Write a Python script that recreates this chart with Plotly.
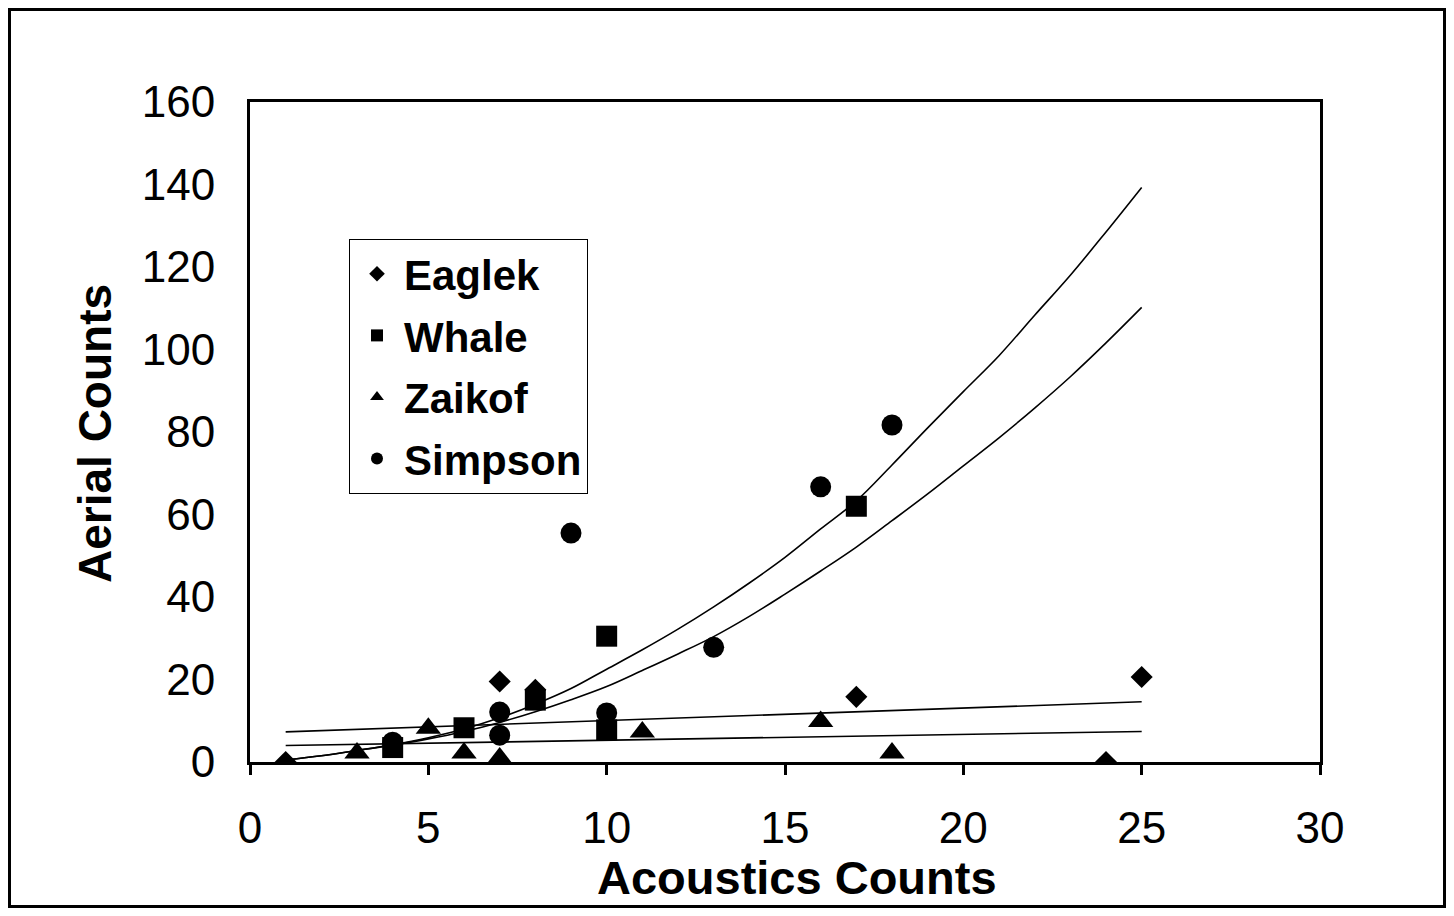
import plotly.graph_objects as go

# ---- data ----
eaglek_x = [1, 7, 8, 17, 24, 25]
eaglek_y = [0, 19.5, 17.5, 15.8, 0, 20.6]

whale_x = [4, 6, 8, 10, 10, 17]
whale_y = [3.5, 8.3, 15, 30.5, 7.8, 62]

zaikof_x = [3, 5, 6, 7, 11, 16, 18]
zaikof_y = [2.2, 8.2, 2.2, 1.0, 7.3, 9.8, 2.2]

simpson_x = [4, 7, 7, 9, 10, 13, 16, 18]
simpson_y = [4.8, 12.1, 6.5, 55.5, 11.9, 27.8, 66.7, 81.7]

# trend curves
curve_x = list(range(1, 26))
curve_upper_y = [0.5, 1.5, 2.8, 4.2, 5.9, 8.0, 10.7, 14.0, 17.8, 22.5, 27.2, 32.2,
                 37.6, 43.4, 49.6, 56.5, 63.3, 72.0, 81.0, 89.8, 98.5, 108.3,
                 118.0, 128.5, 139.3]
curve_lower_y = [0.5, 1.5, 2.8, 4.1, 5.6, 7.4, 9.6, 12.2, 15.1, 18.3, 22.2, 26.2,
                 30.4, 35.3, 40.7, 46.3, 52.1, 58.5, 65.0, 71.8, 78.6, 85.8,
                 93.4, 101.6, 110.2]
flat_x = [1, 25]
flat_upper_y = [7.3, 14.6]
flat_lower_y = [4.0, 7.4]

x_ticks = [0, 5, 10, 15, 20, 25, 30]
y_ticks = [0, 20, 40, 60, 80, 100, 120, 140, 160]
x_title = "Acoustics Counts"
y_title = "Aerial Counts"

FONT = "Liberation Sans, Arial, sans-serif"

fig = go.Figure()

for ys in [curve_upper_y, curve_lower_y]:
    fig.add_trace(go.Scatter(x=curve_x, y=ys, mode="lines", showlegend=False,
                             line=dict(color="black", width=1.6, shape="spline"),
                             hoverinfo="skip"))
for ys in [flat_upper_y, flat_lower_y]:
    fig.add_trace(go.Scatter(x=flat_x, y=ys, mode="lines", showlegend=False,
                             line=dict(color="black", width=1.6),
                             hoverinfo="skip"))

series = [
    ("Eaglek", eaglek_x, eaglek_y, "diamond", 17),
    ("Whale", whale_x, whale_y, "square", 21),
    ("Zaikof", zaikof_x, zaikof_y, "triangle-up", 22),
    ("Simpson", simpson_x, simpson_y, "circle", 21),
]
for i, (name, xs, ys, sym, sz) in enumerate(series):
    fig.add_trace(go.Scatter(x=xs, y=ys, mode="markers", name=name,
                             legendgroup=name,
                             marker=dict(symbol=sym, size=sz, color="black",
                                         line=dict(width=0))))

# page has an 8px body margin: figure origin sits at screen (8, 8)
OFF = 8
W, H = 1438, 900
L, R, T, B = 250 - OFF, 1320 - OFF, 102 - OFF, 762 - OFF


def px(sx):
    return (sx - OFF - L) / (R - L)


def py(sy):
    return (B - (sy - OFF)) / (B - T)


fig.update_layout(
    width=W, height=H,
    margin=dict(l=L, r=W - R, t=T, b=H - B, pad=0),
    paper_bgcolor="white", plot_bgcolor="white",
    font=dict(family=FONT, color="black", size=44),
    showlegend=True,
    legend=dict(
        x=px(349), y=py(239),
        xanchor="left", yanchor="top",
        bgcolor="white", bordercolor="black", borderwidth=1,
        font=dict(family=FONT, size=42, color="black", weight="bold"),
        traceorder="grouped", tracegroupgap=4,
        itemsizing="constant", itemwidth=44,
    ),
    xaxis=dict(
        range=[0, 30], tickvals=x_ticks, ticktext=[str(v) for v in x_ticks],
        showgrid=False, zeroline=False,
        showline=True, linecolor="black", linewidth=3, mirror=True,
        ticks="outside", ticklen=10, tickwidth=3, tickcolor="black",
        ticklabelstandoff=15,
        tickfont=dict(family=FONT, size=44),
    ),
    yaxis=dict(
        range=[0, 160], tickvals=y_ticks, ticktext=[str(v) for v in y_ticks],
        showgrid=False, zeroline=False,
        showline=True, linecolor="black", linewidth=3, mirror=True,
        ticks="", ticklabelstandoff=23,
        tickfont=dict(family=FONT, size=44),
    ),
)

# axis titles
fig.add_annotation(text="<b>%s</b>" % x_title, xref="paper", yref="paper",
                   x=px(797), y=py(877), xanchor="center", yanchor="middle",
                   showarrow=False, font=dict(family=FONT, size=47, color="black"))
fig.add_annotation(text="<b>%s</b>" % y_title, xref="paper", yref="paper",
                   x=px(95), y=py(434), xanchor="center", yanchor="middle",
                   textangle=-90,
                   showarrow=False, font=dict(family=FONT, size=46, color="black"))

# outer chart border
fig.add_shape(type="rect", xref="paper", yref="paper",
              x0=(1.5 - L) / (R - L), x1=(W - 1.5 - L) / (R - L),
              y0=(B - (H - 1.5)) / (B - T), y1=(B - 1.5) / (B - T),
              line=dict(color="black", width=3), layer="below")

fig.write_html("out.html")
